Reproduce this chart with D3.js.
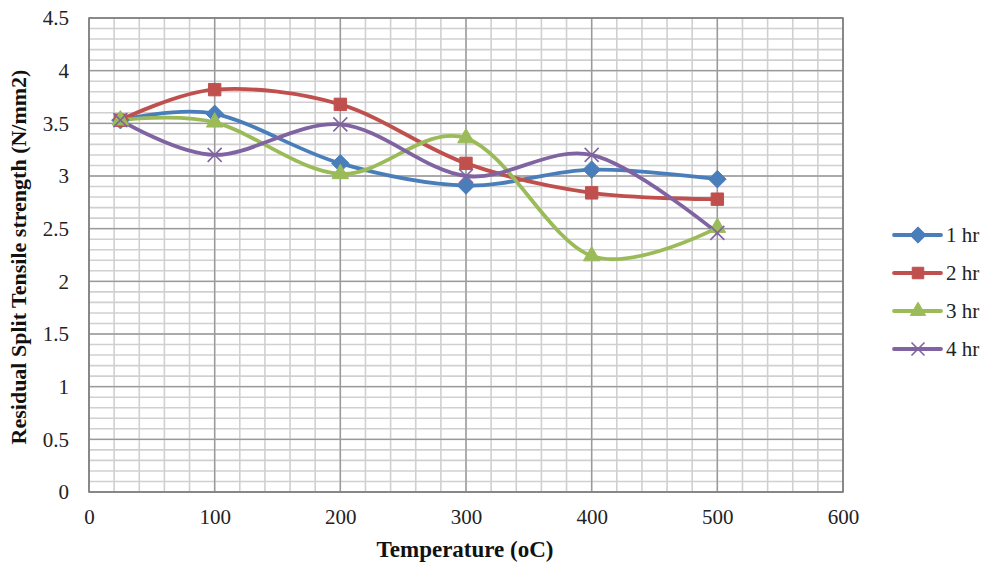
<!DOCTYPE html>
<html>
<head>
<meta charset="utf-8">
<script src="https://cdn.jsdelivr.net/npm/d3@7"></script>
<style>
  body { margin: 0; background: #fff; }
</style>
</head>
<body>
<svg width="987" height="564"></svg>
<script>
// data
const temps = [25, 100, 200, 300, 400, 500];
const hr1 = [3.53, 3.59, 3.12, 2.91, 3.06, 2.97];
const hr2 = [3.53, 3.82, 3.68, 3.12, 2.84, 2.78];
const hr3 = [3.53, 3.51, 3.02, 3.36, 2.24, 2.51];
const hr4 = [3.53, 3.20, 3.49, 3.00, 3.20, 2.46];
const seriesNames = ['1 hr', '2 hr', '3 hr', '4 hr'];
const xTicks = [0, 100, 200, 300, 400, 500, 600];
const yTicks = [0, 0.5, 1, 1.5, 2, 2.5, 3, 3.5, 4, 4.5];

const colors = ['#4a7ebb', '#c0504d', '#9bbb59', '#8064a2'];
const symbols = ['diamond', 'square', 'triangle', 'cross'];
const FONT = '"Liberation Serif", "Times New Roman", serif';

const svg = d3.select('svg');

const x = d3.scaleLinear().domain([0, 600]).range([89, 843]);
const y = d3.scaleLinear().domain([0, 4.5]).range([492, 18]);

// minor grid
const g = svg.append('g');
g.selectAll('.vminor').data(d3.range(0, 601, 20)).enter().append('line')
  .attr('x1', d => x(d)).attr('x2', d => x(d))
  .attr('y1', y(0)).attr('y2', y(4.5))
  .attr('stroke', '#d0d0d0').attr('stroke-width', 1.6);
g.selectAll('.hminor').data(d3.range(0, 45).map(i => i / 10)).enter().append('line')
  .attr('x1', x(0)).attr('x2', x(600))
  .attr('y1', d => y(d)).attr('y2', d => y(d))
  .attr('stroke', '#d0d0d0').attr('stroke-width', 1.6);

// major grid
g.selectAll('.vmajor').data(xTicks).enter().append('line')
  .attr('x1', d => x(d)).attr('x2', d => x(d))
  .attr('y1', y(0)).attr('y2', y(4.5))
  .attr('stroke', '#9a9a9a').attr('stroke-width', 1.4);
g.selectAll('.hmajor').data(yTicks).enter().append('line')
  .attr('x1', x(0)).attr('x2', x(600))
  .attr('y1', d => y(d)).attr('y2', d => y(d))
  .attr('stroke', '#9a9a9a').attr('stroke-width', 1.4);

// plot border
svg.append('rect')
  .attr('x', x(0)).attr('y', y(4.5))
  .attr('width', x(600) - x(0)).attr('height', y(0) - y(4.5))
  .attr('fill', 'none').attr('stroke', '#7f7f7f').attr('stroke-width', 1.6);

// axes
const xAxis = svg.append('g')
  .attr('transform', `translate(0,${y(0)})`)
  .call(d3.axisBottom(x).tickValues(xTicks).tickSize(0).tickPadding(17));
xAxis.select('.domain').remove();
xAxis.selectAll('text')
  .style('font-family', FONT).style('font-size', '21px').attr('fill', '#222');

const yAxis = svg.append('g')
  .attr('transform', `translate(${x(0)},0)`)
  .call(d3.axisLeft(y).tickValues(yTicks).tickFormat(d => d).tickSize(0).tickPadding(20));
yAxis.select('.domain').remove();
yAxis.selectAll('text')
  .style('font-family', FONT).style('font-size', '21px').attr('fill', '#222');

// axis titles
svg.append('text')
  .attr('x', 465).attr('y', 557)
  .attr('text-anchor', 'middle')
  .style('font-family', FONT).style('font-size', '23px').style('font-weight', 'bold')
  .attr('fill', '#111')
  .text('Temperature (oC)');

svg.append('text')
  .attr('transform', `translate(26,${(y(0) + y(4.5)) / 2 + 2}) rotate(-90)`)
  .attr('text-anchor', 'middle')
  .style('font-family', FONT).style('font-size', '22px').style('font-weight', 'bold')
  .attr('fill', '#111')
  .text('Residual Split Tensile strength (N/mm2)');

// series
const allSeries = [hr1, hr2, hr3, hr4];
const line = d3.line()
  .x((d, i) => x(temps[i]))
  .y(d => y(d))
  .curve(d3.curveCatmullRom.alpha(0));

function drawMarker(sel, type, color, size) {
  if (type === 'cross') {
    const s = size / 2;
    sel.append('path')
      .attr('d', `M${-s},${-s}L${s},${s}M${-s},${s}L${s},${-s}`)
      .attr('stroke', color).attr('stroke-width', 1.6).attr('fill', 'none');
  } else {
    const sym = type === 'diamond' ? d3.symbolDiamond2 : type === 'square' ? d3.symbolSquare2 : d3.symbolTriangle2;
    sel.append('path')
      .attr('d', d3.symbol(sym).size(size * size)())
      .attr('fill', color).attr('stroke', color).attr('stroke-width', 1);
  }
}

allSeries.forEach((vals, k) => {
  svg.append('path')
    .datum(vals)
    .attr('d', line)
    .attr('fill', 'none')
    .attr('stroke', colors[k])
    .attr('stroke-width', 3.8)
    .attr('stroke-linecap', 'round');
});

allSeries.forEach((vals, k) => {
  vals.forEach((v, i) => {
    const m = svg.append('g').attr('transform', `translate(${x(temps[i])},${y(v)})`);
    drawMarker(m, symbols[k], colors[k], 14);
  });
});

// legend
const legend = svg.append('g');
seriesNames.forEach((name, k) => {
  const ly = 235 + k * 38;
  legend.append('line')
    .attr('x1', 894).attr('x2', 941).attr('y1', ly).attr('y2', ly)
    .attr('stroke', colors[k]).attr('stroke-width', 3.8).attr('stroke-linecap', 'round');
  const m = legend.append('g').attr('transform', `translate(918,${ly})`);
  drawMarker(m, symbols[k], colors[k], 13);
  legend.append('text')
    .attr('x', 946).attr('y', ly + 7)
    .style('font-family', FONT).style('font-size', '21px')
    .attr('fill', '#222')
    .text(name);
});
</script>
</body>
</html>
